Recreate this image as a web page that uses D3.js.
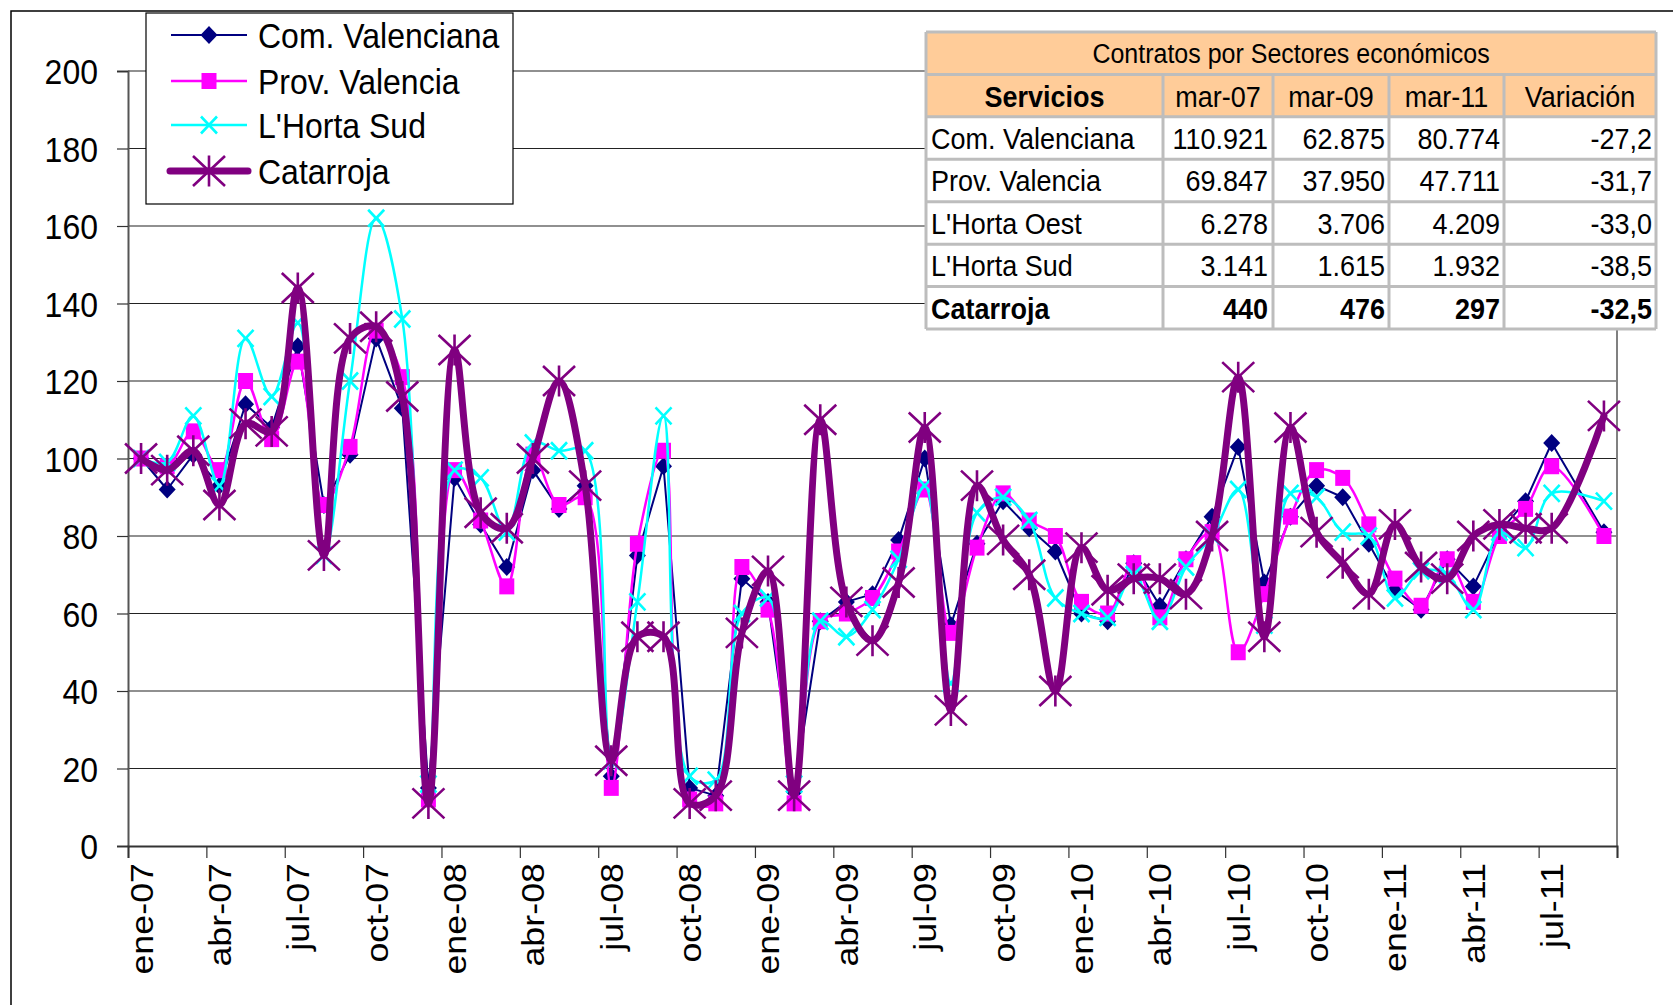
<!DOCTYPE html>
<html><head><meta charset="utf-8">
<script src="https://cdn.jsdelivr.net/npm/d3@7"></script>
<style>
html,body{margin:0;padding:0;background:#fff;}
svg{display:block;font-family:"Liberation Sans",Arial,sans-serif;}
</style></head><body>
<svg id="chart" width="1673" height="1005"></svg>
<script>
// ---------- DATA ----------
const months = ["ene-07","feb-07","mar-07","abr-07","may-07","jun-07","jul-07","ago-07","sep-07","oct-07","nov-07","dic-07",
"ene-08","feb-08","mar-08","abr-08","may-08","jun-08","jul-08","ago-08","sep-08","oct-08","nov-08","dic-08",
"ene-09","feb-09","mar-09","abr-09","may-09","jun-09","jul-09","ago-09","sep-09","oct-09","nov-09","dic-09",
"ene-10","feb-10","mar-10","abr-10","may-10","jun-10","jul-10","ago-10","sep-10","oct-10","nov-10","dic-10",
"ene-11","feb-11","mar-11","abr-11","may-11","jun-11","jul-11","sep-11"];
const comValenciana = [100,92,101,93,114,108,129,88,101,131,113,15,
 95,83,72,97,87,93,18,75,98,15,13,69,
 63,14,58,63,65,79,100,57,78,89,82,76,
 60,58,73,62,74,85,103,68,85,93,90,78,
 66,61,74,67,81,89,104,81];
const provValencia = [100,98,107,97,120,105,125,88,103,133,121,12,
 97,84,67,101,88,90,15,78,102,12,11,72,
 61,11,58,60,64,76,92,55,77,91,84,80,
 63,60,73,59,74,81,50,65,85,97,95,83,
 69,62,74,63,80,87,98,80];
const hortaSud = [100,99,111,93,131,116,135,75,120,162,136,16,
 97,95,81,104,102,102,22,63,111,18,17,60,
 64,16,58,54,61,74,93,42,86,90,84,64,
 60,59,70,58,72,80,92,57,91,90,81,80,
 64,71,70,61,81,77,91,89];
const catarroja = [100,97,102,88,109,107,144,75,131,134,116,11,
 128,86,82,100,120,93,22,54,54,11,13,55,
 71,13,110,63,53,68,108,35,93,79,70,40,
 77,66,69,69,65,80,121,54,108,81,73,65,
 83,72,69,80,83,82,82,111];
const tickLabels = ["ene-07","abr-07","jul-07","oct-07","ene-08","abr-08","jul-08","oct-08",
 "ene-09","abr-09","jul-09","oct-09","ene-10","abr-10","jul-10","oct-10","ene-11","abr-11","jul-11"];
const yTicks = [0,20,40,60,80,100,120,140,160,180,200];

const tableTitle = "Contratos por Sectores económicos";
const tableHeader = ["Servicios","mar-07","mar-09","mar-11","Variación"];
const tableRows = ["Com. Valenciana","Prov. Valencia","L'Horta Oest","L'Horta Sud","Catarroja"];
const tableMar07 = ["110.921","69.847","6.278","3.141","440"];
const tableMar09 = ["62.875","37.950","3.706","1.615","476"];
const tableMar11 = ["80.774","47.711","4.209","1.932","297"];
const tableVariacion = ["-27,2","-31,7","-33,0","-38,5","-32,5"];

// ---------- HELPERS ----------
const mesAbbr = ["ene","feb","mar","abr","may","jun","jul","ago","sep","oct","nov","dic"];
function monthIndex(lbl){ const p = lbl.split("-"); return (+p[1]-7)*12 + mesAbbr.indexOf(p[0]); }
const SY = 1.12; // vertical stretch of text in the reference

const svg = d3.select("#chart");
const W = 1673, H = 1005;
const x = d3.scaleLinear().domain([0,57]).range([128,1617]);
const y = d3.scaleLinear().domain([0,200]).range([846,71]);

// chart area border (extends past canvas on right/bottom)
svg.append("rect").attr("x",11).attr("y",11).attr("width",W+20).attr("height",H+20)
  .attr("fill","#fff").attr("stroke","#000").attr("stroke-width",1.5);

// gridlines
svg.append("g").selectAll("line").data(yTicks.filter(d=>d>0)).join("line")
  .attr("x1",128).attr("x2",1617).attr("y1",d=>y(d)).attr("y2",d=>y(d))
  .attr("stroke","#222").attr("stroke-width",1.2);
// plot right border
svg.append("line").attr("x1",1617).attr("x2",1617).attr("y1",y(200)).attr("y2",y(0))
  .attr("stroke","#808080").attr("stroke-width",2);

// y axis
const yAxis = svg.append("g").attr("transform","translate(128,0)")
  .call(d3.axisLeft(y).tickValues(yTicks).tickSize(11).tickPadding(19).tickFormat(d3.format("d")));
yAxis.select(".domain").attr("stroke","#555").attr("stroke-width",2);
yAxis.selectAll(".tick line").attr("stroke","#333").attr("stroke-width",1.2);
yAxis.selectAll(".tick text").attr("font-size",32).attr("fill","#000")
  .attr("font-family","'Liberation Sans',Arial,sans-serif")
  .attr("dy","0.36em")
  .attr("transform",`scale(1,${SY})`);

// x axis
const labelIdx = tickLabels.map(monthIndex);
const tickIdx = labelIdx.concat([57]);
const xAxis = svg.append("g").attr("transform","translate(0,846)")
  .call(d3.axisBottom(x).tickValues(tickIdx).tickSize(12)
    .tickFormat(d => { const k = labelIdx.indexOf(d); return k>=0 ? tickLabels[k] : ""; }));
xAxis.select(".domain").attr("stroke","#333").attr("stroke-width",2);
xAxis.selectAll(".tick line").attr("stroke","#333").attr("stroke-width",1.2);
xAxis.selectAll(".tick text").attr("font-size",32).attr("fill","#000")
  .attr("font-family","'Liberation Sans',Arial,sans-serif")
  .attr("text-anchor","end").attr("x",0).attr("y",0).attr("dy",0)
  .attr("transform",`translate(24,17) scale(1,${SY}) rotate(-90)`);

// ---------- SERIES ----------
const markerPaths = {
  diamond: "M0,-9L8.5,0L0,9L-8.5,0Z",
  square: "M-7.5,-8H7.5V8H-7.5Z",
  x: "M-8,-8.5L8,8.5M-8,8.5L8,-8.5",
  star: "M-16,-15L16,15M-16,15L16,-15M0,-15.5V15.5"
};
const smooth = d3.curveCatmullRom.alpha(0.5);
const series = [
  {name:"Com. Valenciana", values:comValenciana, color:"#000080", width:2, curve:d3.curveLinear, marker:"diamond", fill:true, mstroke:0},
  {name:"Prov. Valencia", values:provValencia, color:"#FF00FF", width:2.5, curve:smooth, marker:"square", fill:true, mstroke:0},
  {name:"L'Horta Sud", values:hortaSud, color:"#00FFFF", width:2.5, curve:smooth, marker:"x", fill:false, mstroke:2.6},
  {name:"Catarroja", values:catarroja, color:"#800080", width:7, curve:smooth, marker:"star", fill:false, mstroke:2.6}
];

series.forEach(s => {
  const pts = months.map((m,i) => [x(monthIndex(m)+0.5), y(s.values[i])]);
  const g = svg.append("g");
  g.append("path").attr("d", d3.line().curve(s.curve)(pts))
    .attr("fill","none").attr("stroke",s.color).attr("stroke-width",s.width)
    .attr("stroke-linejoin","round").attr("stroke-linecap","round");
  g.selectAll("path.m").data(pts).join("path").attr("class","m")
    .attr("transform",d=>`translate(${d[0]},${d[1]})`)
    .attr("d",markerPaths[s.marker])
    .attr("fill",s.fill ? s.color : "none")
    .attr("stroke",s.fill ? "none" : s.color)
    .attr("stroke-width",s.mstroke);
});

// ---------- LEGEND ----------
const lg = svg.append("g");
lg.append("rect").attr("x",146).attr("y",13).attr("width",367).attr("height",191)
  .attr("fill","#fff").attr("stroke","#000").attr("stroke-width",1.2);
const legY = [35,81,125,171];
series.forEach((s,i) => {
  const yy = legY[i];
  lg.append("line").attr("x1",s.width>5?170:171).attr("x2",s.width>5?248:247)
    .attr("y1",yy).attr("y2",yy).attr("stroke",s.color).attr("stroke-width",s.width)
    .attr("stroke-linecap",s.width>5?"round":"butt");
  lg.append("path").attr("transform",`translate(209,${yy})`).attr("d",markerPaths[s.marker])
    .attr("fill",s.fill ? s.color : "none").attr("stroke",s.fill ? "none" : s.color)
    .attr("stroke-width",s.mstroke);
  lg.append("text").attr("transform",`translate(258,${yy}) scale(1,${SY})`)
    .attr("dy","0.36em").attr("font-size",32).attr("fill","#000").text(s.name);
});

// ---------- TABLE ----------
const colX = [926,1163,1273,1389,1504,1656];
const rowTop = 32, rowH = (329-32)/7;
const tg = svg.append("g");
const gridC = "#BDBDBD";
tg.append("rect").attr("x",colX[0]).attr("y",rowTop).attr("width",colX[5]-colX[0]).attr("height",rowH*2).attr("fill","#FFCC99");
tg.append("rect").attr("x",colX[0]).attr("y",rowTop+rowH*2).attr("width",colX[5]-colX[0]).attr("height",rowH*5).attr("fill","#fff");
d3.range(8).forEach(r => {
  tg.append("line").attr("x1",colX[0]).attr("x2",colX[5]).attr("y1",rowTop+r*rowH).attr("y2",rowTop+r*rowH)
    .attr("stroke",gridC).attr("stroke-width",3);
});
colX.forEach((cx,ci) => {
  const y0 = (ci===0||ci===5) ? rowTop : rowTop+rowH;
  tg.append("line").attr("x1",cx).attr("x2",cx).attr("y1",y0).attr("y2",rowTop+7*rowH)
    .attr("stroke",gridC).attr("stroke-width",3);
});
function cellText(txt, xx, yy, anchor, size, bold){
  tg.append("text").attr("transform",`translate(${xx},${yy}) scale(1,${SY})`)
    .attr("dy","0.36em").attr("text-anchor",anchor).attr("font-size",size)
    .attr("font-weight",bold?"bold":"normal").attr("fill","#000").text(txt);
}
cellText(tableTitle, (colX[0]+colX[5])/2, rowTop+rowH/2, "middle", 25, false);
tableHeader.forEach((h,i) => cellText(h, (colX[i]+colX[i+1])/2, rowTop+rowH*1.5, "middle", 27, i===0));
tableRows.forEach((r,i) => {
  const yy = rowTop + rowH*(2.5+i);
  const b = (r==="Catarroja");
  cellText(r, colX[0]+5, yy, "start", 27, b);
  cellText(tableMar07[i], colX[2]-5, yy, "end", 27, b);
  cellText(tableMar09[i], colX[3]-4, yy, "end", 27, b);
  cellText(tableMar11[i], colX[4]-4, yy, "end", 27, b);
  cellText(tableVariacion[i], colX[5]-4, yy, "end", 27, b);
});
</script>
</body></html>
